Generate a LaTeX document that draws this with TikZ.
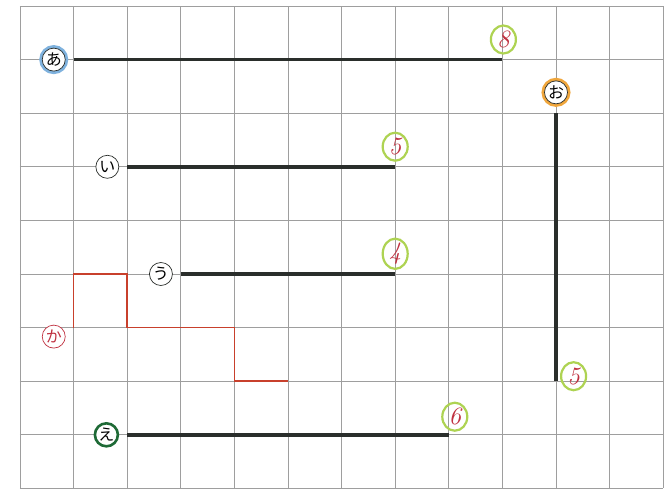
\documentclass[tikz,border=0pt]{standalone}
\usepackage{fontspec}
\newfontfamily\jpfont{Noto Sans CJK JP}
\usepackage{xcolor}
\usetikzlibrary{positioning,shapes.geometric}
\definecolor{gridgray}{HTML}{9E9E9E}
\definecolor{ink}{HTML}{2A2E2B}
\definecolor{penred}{HTML}{C0303F}
\definecolor{stairred}{HTML}{C8402C}
\definecolor{lime}{HTML}{AED352}
\definecolor{glowblue}{HTML}{7FB2DE}
\definecolor{gloworange}{HTML}{F0A63C}
\definecolor{deepgreen}{HTML}{1E6A36}

\begin{document}
\begin{tikzpicture}[x=53.6bp,y=-53.6bp,
  gridline/.style={gridgray,line width=0.8bp},
  kana/.style={circle,draw=ink,fill=white,line width=0.7bp,inner sep=0pt,minimum size=23bp,
    font=\jpfont\fontsize{16}{16}\selectfont},
  glow/.style={preaction={draw=#1,line width=6bp}},
  count/.style={ellipse,draw=lime,line width=2.2bp,inner sep=0pt,minimum width=25bp,minimum height=28bp,
    text=penred,font=\itshape\fontsize{25}{25}\selectfont},
  road/.style={ink,line width=3.6bp},
  stairs/.style={stairred,line width=1.7bp}]
  \useasboundingbox[fill=white] (-0.373,-0.112) rectangle (12.015,9.086);
  % squared paper
  \foreach \i in {0,...,12} \draw[gridline] (\i,0) -- (\i,9);
  \foreach \j in {0,...,9} \draw[gridline] (0,\j) -- (12,\j);
  % line ends
  \coordinate (a0) at (1,1);  \coordinate (a1) at (9,1);
  \coordinate (i0) at (2,3);  \coordinate (i1) at (7,3);
  \coordinate (u0) at (3,5);  \coordinate (u1) at (7,5);
  \coordinate (e0) at (2,8);  \coordinate (e1) at (8,8);
  \coordinate (o0) at (10,2); \coordinate (o1) at (10,7);
  \coordinate (k0) at (1,6);  \coordinate (k1) at (5,7);
  % straight lines
  \draw[road] (a0) -- (a1);
  \draw[road] (i0) -- (i1);
  \draw[road] (u0) -- (u1);
  \draw[road] (e0) -- (e1);
  \draw[road] (o0) -- (o1);
  \draw[stairs] (k0) -- ++(0,-1) -- ++(1,0) -- ++(0,1) -- ++(2,0) -- ++(0,1) -- (k1);
  % names
  \node[kana,glow=glowblue,left=8bp of a0] (a) {あ};
  \node[kana,left=8bp of i0] (i) {い};
  \node[kana,left=8bp of u0] (u) {う};
  \node[kana,draw=deepgreen,line width=2.6bp,left=8bp of e0] (e) {え};
  \node[kana,glow=gloworange,above=9bp of o0] (o) {お};
  \node[kana,draw=penred,text=penred,left=8bp of k0,yshift=-9bp] (k) {か};
  % lengths
  \node[count,above=5bp of a1,xshift=1bp] (na) {8};
  \node[count,above=5bp of i1] (ni) {5};
  \node[count,above=4bp of u1] (nu) {4};
  \node[count,above=3bp of e1,xshift=6bp] (ne) {6};
  \node[count,right=4bp of o1,yshift=5bp] (no) {5};
\end{tikzpicture}
\end{document}
